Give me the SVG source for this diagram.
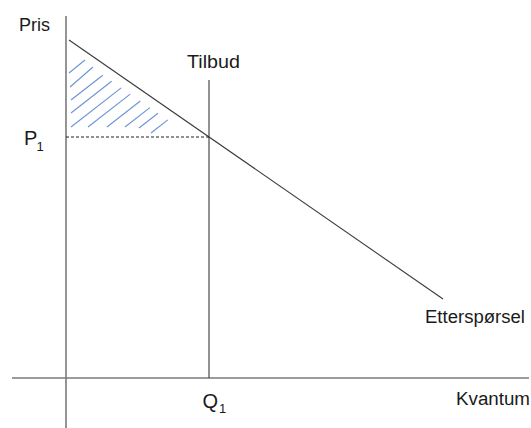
<svg xmlns="http://www.w3.org/2000/svg" width="531" height="428" viewBox="0 0 531 428">
<style>
.t{font-family:"Liberation Sans",Arial,sans-serif;font-size:18px;fill:#1a1a1a}
.big{font-size:20px}
.sub{font-size:13px}
.axis{stroke:#7a7a7a;stroke-width:1.6;fill:none}
.ln{stroke:#3a3a3a;stroke-width:1.1;fill:none}
.dash{stroke:#222;stroke-width:1;stroke-dasharray:3 2;fill:none}
.h{stroke:#6b93d6;stroke-width:1.1;fill:none}
</style>
<rect width="531" height="428" fill="#fff"/>
<g id="connectors">
<line class="axis" x1="66" y1="16" x2="66" y2="428"/>
<line class="axis" x1="12" y1="378" x2="529" y2="378"/>
<line class="ln" x1="209" y1="80" x2="209" y2="378"/>
<line class="ln" x1="69" y1="40" x2="443" y2="299"/>
<line class="dash" x1="66" y1="137" x2="209" y2="137"/>
</g>
<g id="hatch">
<line class="h" x1="69" y1="73" x2="85" y2="60"/>
<line class="h" x1="70" y1="87" x2="93" y2="67"/>
<line class="h" x1="71" y1="100" x2="102.8" y2="75.2"/>
<line class="h" x1="71" y1="113" x2="111.6" y2="81.3"/>
<line class="h" x1="71" y1="127" x2="121.2" y2="87.9"/>
<line class="h" x1="88" y1="127" x2="130.2" y2="94.1"/>
<line class="h" x1="107" y1="127" x2="140.3" y2="101"/>
<line class="h" x1="125" y1="127" x2="149.9" y2="107.6"/>
<line class="h" x1="139" y1="128" x2="158" y2="113.2"/>
<line class="h" x1="151" y1="133" x2="167.8" y2="119.9"/>
</g>
<g id="pris"><text class="t" x="19" y="31" textLength="31" lengthAdjust="spacingAndGlyphs">Pris</text></g>
<g id="tilbud"><text class="t" x="187" y="68" textLength="53" lengthAdjust="spacingAndGlyphs">Tilbud</text></g>
<g id="p1"><text class="t big" x="24" y="145">P</text><text class="t sub" x="36.5" y="151">1</text></g>
<g id="q1"><text class="t big" x="202.5" y="408">Q</text><text class="t sub" x="219" y="413">1</text></g>
<g id="etterspoersel"><text class="t" x="425" y="323" textLength="100" lengthAdjust="spacingAndGlyphs">Etterspørsel</text></g>
<g id="kvantum"><text class="t" x="456" y="405" textLength="74" lengthAdjust="spacingAndGlyphs">Kvantum</text></g>
</svg>
